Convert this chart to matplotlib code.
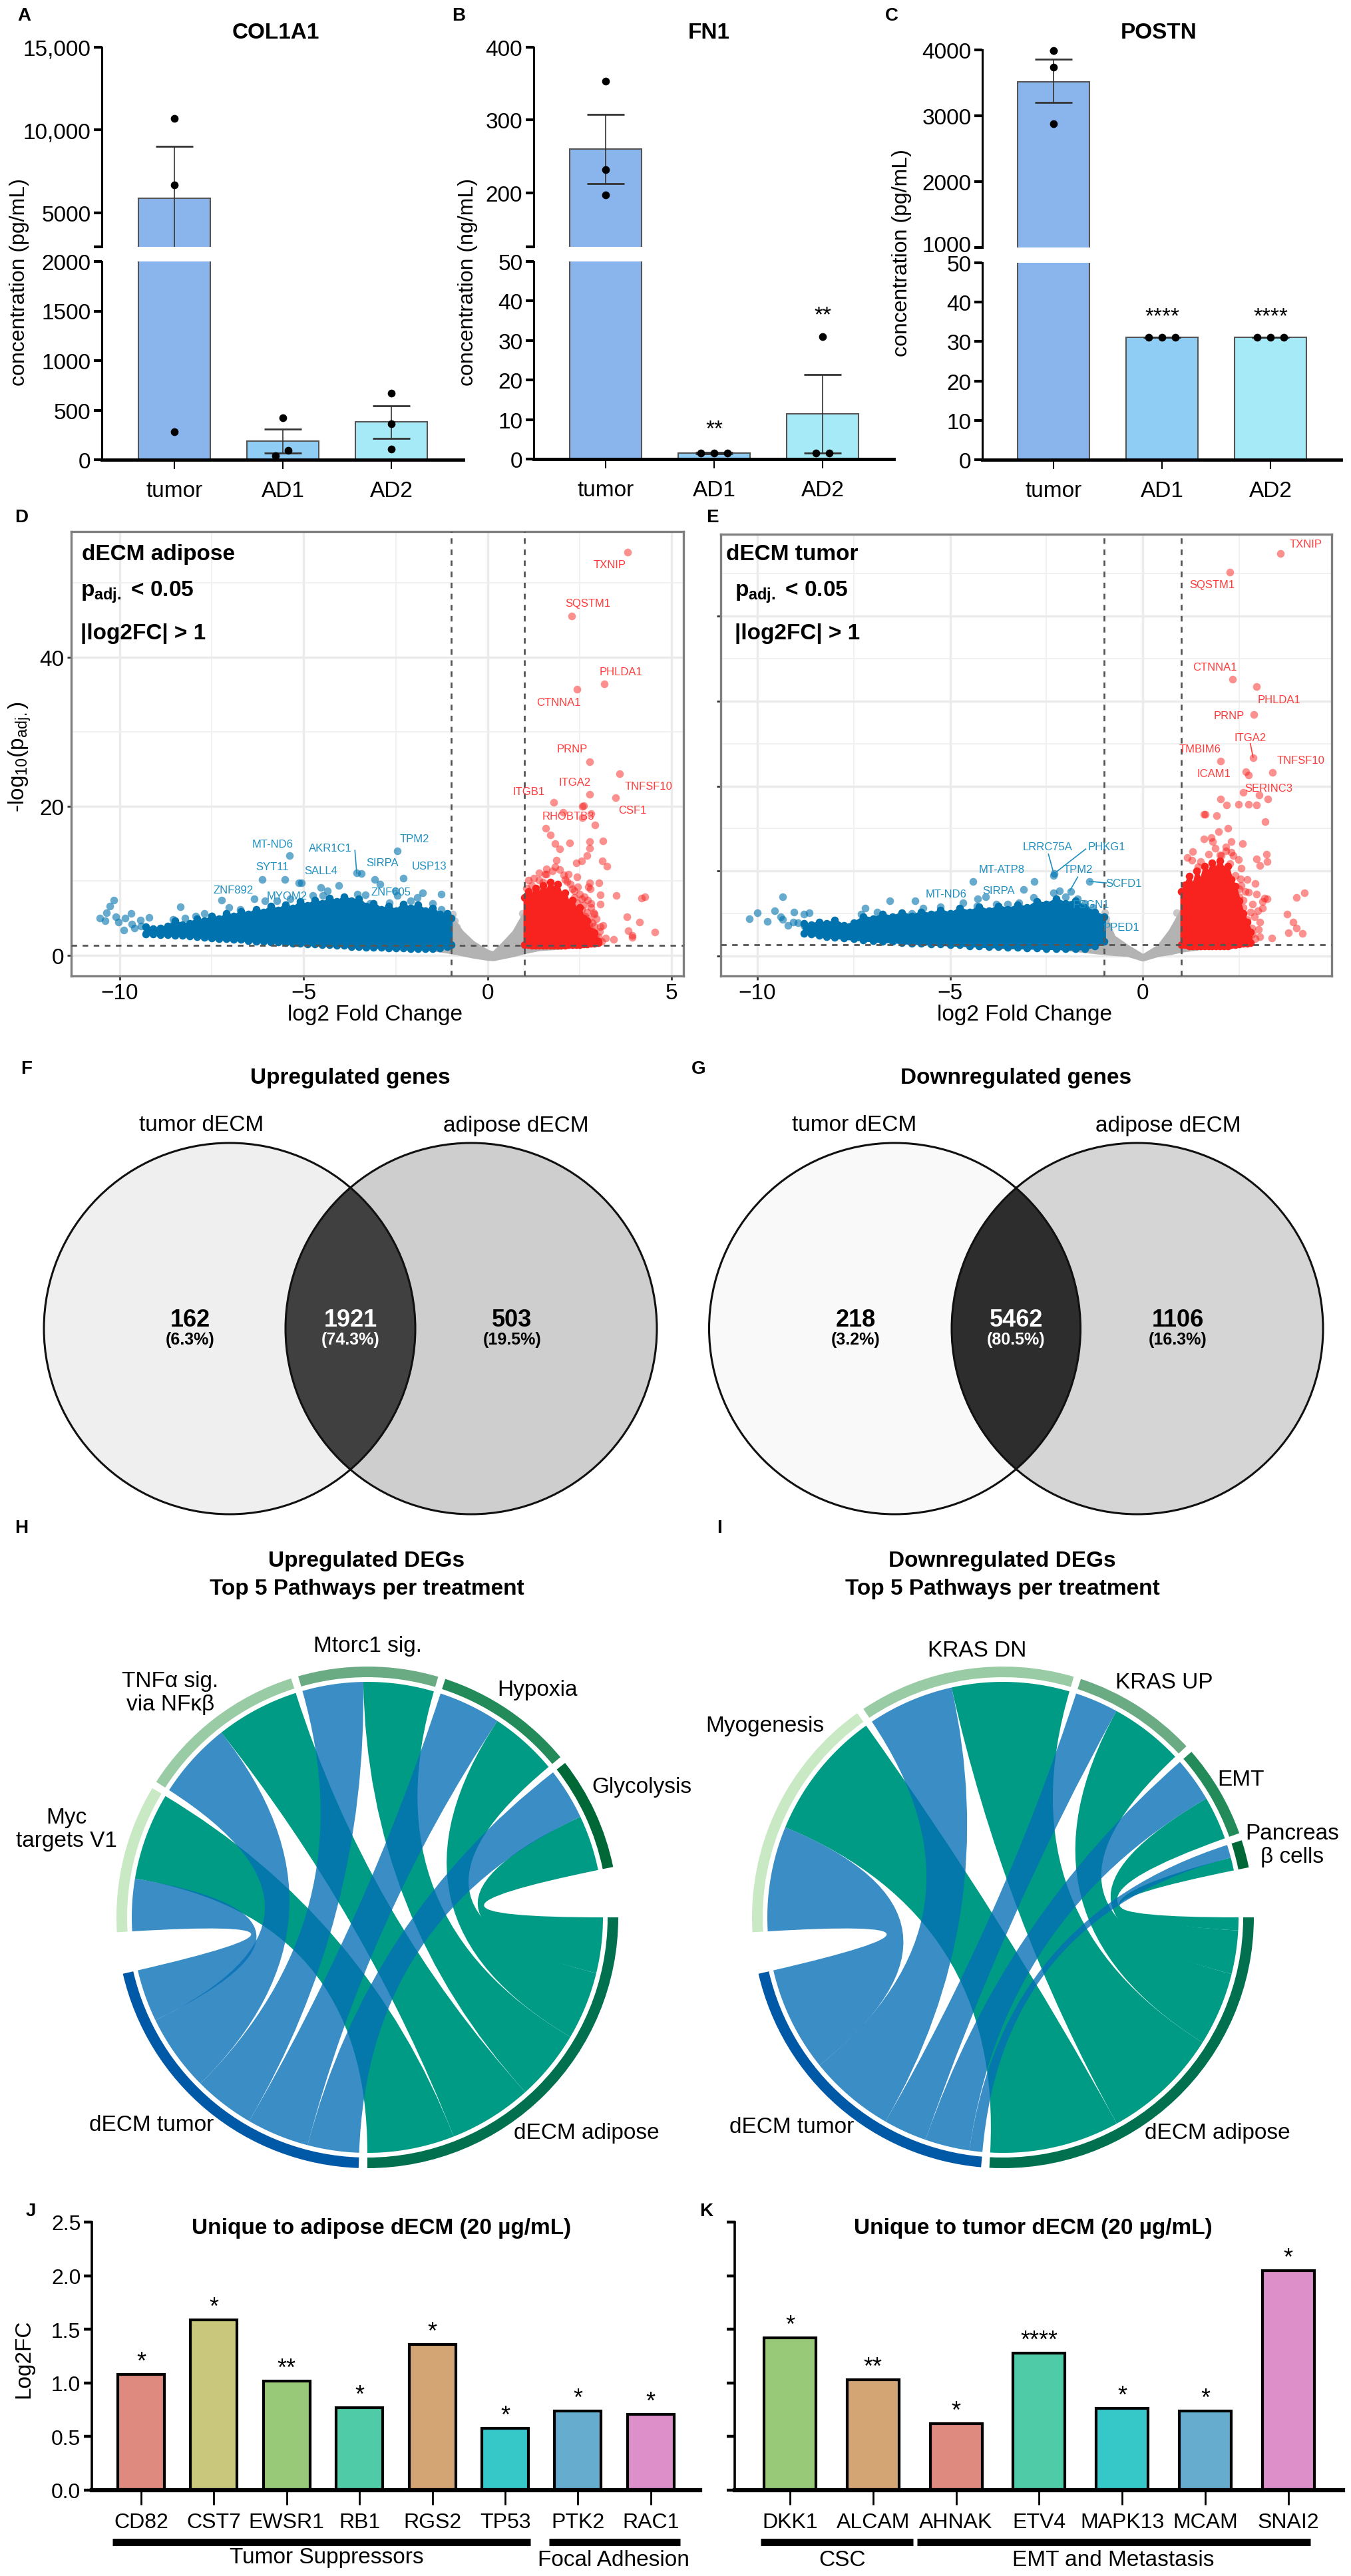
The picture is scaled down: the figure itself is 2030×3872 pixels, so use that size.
import numpy as np
import matplotlib
matplotlib.use('Agg')
import matplotlib.pyplot as plt
from matplotlib.patches import Circle, Wedge, PathPatch
from matplotlib.path import Path
from matplotlib.transforms import ScaledTranslation

plt.rcParams['font.family'] = ['Liberation Sans', 'DejaVu Sans']
plt.rcParams['mathtext.default'] = 'regular'

W, H = 2030, 3873

# panels A-C: bars
groups = ['tumor', 'AD1', 'AD2']
bar_colors = ['#8AB4EC', '#8FCDF4', '#A5EAF6']

col1a1_mean = [5900, 185, 380]
col1a1_low = [2800, 70, 215]
col1a1_high = [9000, 310, 545]
col1a1_points = [[10700, 6700, 280], [420, 95, 40], [670, 360, 110]]
col1a1_offset = [[0, 0, 0], [0, 0.05, -0.07], [0, 0, 0]]

fn1_mean = [260, 1.5, 11.5]
fn1_low = [213, 1.3, 1.5]
fn1_high = [308, 1.7, 21.3]
fn1_points = [[353, 232, 197], [1.5, 1.5, 1.5], [31, 1.5, 1.5]]
fn1_offset = [[0, 0, 0], [-0.12, 0, 0.12], [0, -0.06, 0.06]]

postn_mean = [3520, 31, 31]
postn_low = [3200, 31, 31]
postn_high = [3860, 31, 31]
postn_points = [[3990, 3740, 2880], [31, 31, 31], [31, 31, 31]]
postn_offset = [[0, 0, 0], [-0.12, 0, 0.12], [-0.12, 0, 0.12]]

# panels D-E: volcano. the dense cloud is kept as its outline
d_blue_env_x = [-9.3, -9.1, -8.9, -8.7, -8.5, -8.3, -8.1, -7.9, -7.7, -7.5, -7.3, -7.1, -6.9, -6.7, -6.5, -6.3,
                -6.1, -5.9, -5.7, -5.5, -5.3, -5.1, -4.9, -4.7, -4.5, -4.3, -4.1, -3.9, -3.7, -3.5, -3.3, -3.1,
                -2.9, -2.7, -2.5, -2.3, -2.1, -1.9, -1.7, -1.5, -1.3, -1.1, -1.0]
d_blue_env_top = [3.8, 3.6, 3.7, 3.9, 4.6, 4.1, 4.3, 4.9, 4.6, 5.3, 4.9, 5.6, 5.3, 5.9, 5.5, 6.2,
                  5.8, 6.6, 6.1, 6.8, 6.3, 7.2, 6.7, 7.4, 7.0, 7.7, 7.2, 7.9, 7.3, 7.6, 6.6, 7.0,
                  6.2, 6.6, 6.0, 6.9, 6.3, 6.8, 6.0, 6.3, 5.5, 5.6, 5.0]
d_blue_env_bot = [2.9, 2.9, 2.8, 2.8, 2.7, 2.7, 2.6, 2.5, 2.4, 2.3, 2.2, 2.2, 2.1, 2.1, 2.0, 1.9,
                  1.9, 1.8, 1.8, 1.7, 1.6, 1.6, 1.5, 1.5, 1.4, 1.4, 1.3, 1.3, 1.2, 1.2, 1.1, 1.1,
                  1.1, 1.0, 1.0, 1.0, 0.9, 0.9, 0.9, 0.9, 1.0, 1.2, 1.4]
d_red_env_x = [1.0, 1.1, 1.2, 1.3, 1.4, 1.5, 1.6, 1.7, 1.8, 1.9, 2.0, 2.1, 2.2, 2.3, 2.4, 2.5, 2.6, 2.7, 2.8, 2.9, 3.0]
d_red_env_top = [7.8, 8.6, 7.9, 9.0, 8.2, 9.4, 8.6, 9.8, 8.8, 9.6, 8.0, 8.4, 7.0, 7.4, 6.0, 6.4, 5.0, 4.6, 3.2, 3.0, 1.9]
d_red_env_bot = [1.4, 1.4, 1.3, 1.3, 1.3, 1.3, 1.3, 1.3, 1.3, 1.3, 1.3, 1.3, 1.4, 1.4, 1.4, 1.4, 1.5, 1.5, 1.6, 1.6, 1.7]
d_gray_env_x = [-1.7, -1.0, -0.7, -0.4, 0.0, 0.15, 0.4, 0.7, 1.0, 1.4, 2.0]
d_gray_env_top = [1.0, 5.2, 3.2, 1.8, 0.6, 0.4, 1.6, 3.2, 5.8, 1.4, 1.1]
d_gray_env_bot = [0.9, 0.4, 0.1, -0.2, -0.5, -0.55, -0.3, 0.0, 0.4, 0.8, 1.0]

d_blue_x = [-10.55, -10.39, -10.36, -10.27, -10.17, -10.1, -10.04, -9.9, -9.86, -9.7, -9.68, -9.6, -9.44,
            -9.42, -9.21, -9.27, -8.55, -8.35, -8.23, -7.93, -7.71, -7.5, -7.24, -7.04, -6.73, -6.35, -6.13,
            -6.05, -5.73, -5.51, -5.39, -5.37, -5.13, -5.06, -4.75, -4.54, -4.36, -4.48, -4.05, -3.56, -3.44,
            -3.55, -3.32, -3.08, -2.92, -3.2, -2.67, -2.45, -2.51, -2.45, -2.3, -2.1, -1.92, -1.77, -1.5,
            -1.27, -1.26, -1.08]
d_blue_y = [5.0, 4.6, 5.7, 6.6, 7.4, 5.2, 4.5, 3.4, 5.0, 5.6, 4.2, 3.7, 4.7,
            3.9, 5.1, 3.1, 4.8, 6.5, 5.0, 5.3, 5.6, 5.3, 7.4, 6.4, 6.2, 7.6, 10.2,
            7.3, 7.3, 10.2, 13.4, 7.6, 9.7, 9.7, 8.0, 9.1, 8.7, 8.0, 9.4, 11.1, 11.0,
            8.2, 8.1, 10.2, 9.6, 7.0, 7.1, 14.0, 8.7, 8.0, 10.4, 7.3, 7.8, 8.4, 7.0,
            8.2, 6.2, 5.2]
d_red_x = [3.8, 2.28, 3.16, 2.42, 2.77, 3.58, 2.77, 3.47, 1.79, 2.61, 2.57, 2.05, 2.81, 2.57, 2.91, 1.58,
           1.7, 3.14, 2.77, 2.22, 1.83, 1.95, 2.77, 2.7, 1.86, 2.55, 3.12, 2.4, 3.24, 1.83, 1.95, 1.6,
           1.55, 2.07, 2.43, 3.03, 2.77, 1.39, 3.49, 4.28, 4.18, 3.06, 3.78, 4.13, 4.55, 3.82, 3.92, 3.92,
           3.42, 3.2, 2.94, 3.14, 3.06, 2.9, 3.06, 2.8, 2.55, 2.73, 2.25, 2.1, 2.9, 2.6, 2.45, 2.75, 2.35,
           1.05, 1.2, 1.3, 1.5, 2.65, 2.4, 2.85, 2.7,
           2.35, 2.5, 2.62, 2.72, 2.8, 2.88, 2.95, 2.55, 2.65, 2.42, 2.3, 2.48, 2.7, 2.85, 3.0, 2.62, 2.75, 2.5,
           2.38, 2.9, 3.05, 2.58, 2.68, 2.2, 2.15, 2.45, 2.78, 2.35, 2.52, 3.1, 1.1, 1.25, 1.4, 1.6, 1.75]
d_red_y = [54.1, 45.6, 36.4, 35.7, 26.0, 24.4, 21.6, 21.2, 20.5, 20.1, 20.0, 19.2, 19.0, 18.5, 17.5, 17.1,
           16.2, 15.4, 15.3, 15.1, 15.0, 14.3, 14.4, 13.4, 12.8, 12.7, 12.7, 12.4, 12.0, 11.9, 11.5, 10.9,
           10.9, 10.8, 10.5, 9.7, 9.7, 10.1, 8.0, 7.9, 7.7, 8.1, 5.2, 4.5, 3.1, 3.3, 2.7, 2.4,
           2.1, 2.3, 2.4, 4.0, 3.8, 5.5, 6.9, 7.0, 7.6, 9.2, 9.6, 10.2, 3.9, 6.8, 4.6, 4.9, 7.8,
           9.0, 9.4, 8.7, 9.8, 2.3, 2.8, 4.4, 5.8,
           8.7, 8.2, 7.9, 7.4, 6.4, 5.7, 4.9, 6.2, 5.3, 7.1, 8.9, 5.2, 2.9, 3.3, 2.5, 3.6, 4.1, 3.0,
           2.6, 2.2, 3.2, 2.1, 1.9, 10.9, 9.9, 9.2, 8.9, 3.9, 1.8, 1.9, 10.1, 10.4, 11.1, 11.6, 11.3]
d_gray_x = [0.94, 0.98, -0.95, -0.9, -0.85]
d_gray_y = [5.6, 4.9, 5.5, 4.6, 3.8]

d_labels = ['TXNIP', 'SQSTM1', 'PHLDA1', 'CTNNA1', 'PRNP', 'ITGA2', 'TNFSF10', 'ITGB1', 'CSF1', 'RHOBTB3']
d_label_x = [3.32, 2.73, 3.62, 1.93, 2.29, 2.36, 4.38, 1.11, 3.93, 2.19]
d_label_y = [52.5, 47.3, 38.1, 34.0, 27.7, 23.3, 22.7, 22.0, 19.5, 18.7]
d_blue_labels = ['MT-ND6', 'AKR1C1', 'TPM2', 'SIRPA', 'USP13', 'SYT11', 'SALL4', 'ZNF892', 'MYOM2', 'ZNF605']
d_blue_label_x = [-5.85, -4.28, -1.99, -2.87, -1.59, -5.85, -4.54, -6.92, -5.45, -2.63]
d_blue_label_y = [15.0, 14.4, 15.7, 12.5, 12.0, 11.9, 11.4, 8.8, 8.0, 8.5]

e_blue_env_x = [-8.8, -8.6, -8.4, -8.2, -8.0, -7.75, -7.5, -7.25, -7.0, -6.75, -6.5, -6.25, -6.0, -5.75, -5.5, -5.25,
                -5.0, -4.75, -4.5, -4.25, -4.0, -3.75, -3.5, -3.25, -3.0, -2.75, -2.5, -2.25, -2.0, -1.75, -1.5,
                -1.25, -1.0]
e_blue_env_top = [3.8, 3.7, 4.0, 3.8, 4.2, 3.6, 3.9, 4.6, 4.4, 4.9, 4.6, 5.1, 4.7, 5.2, 4.9, 5.4,
                  5.0, 5.6, 5.2, 5.8, 5.3, 5.9, 5.5, 6.0, 5.7, 6.4, 6.1, 6.7, 6.2, 6.5, 5.7,
                  5.2, 4.6]
e_blue_env_bot = [2.7, 2.6, 2.4, 2.3, 2.2, 2.1, 2.0, 1.9, 1.8, 1.7, 1.7, 1.6, 1.5, 1.5, 1.4, 1.4,
                  1.3, 1.3, 1.2, 1.2, 1.1, 1.1, 1.0, 1.0, 0.95, 0.95, 0.9, 0.9, 0.85, 0.85, 0.9,
                  1.2, 1.7]
e_red_env_x = [1.0, 1.1, 1.2, 1.3, 1.4, 1.5, 1.6, 1.7, 1.8, 1.9, 2.0, 2.1, 2.2, 2.3, 2.4, 2.5, 2.6, 2.7, 2.8]
e_red_env_top = [7.6, 8.4, 9.4, 8.2, 10.0, 8.8, 10.6, 9.8, 11.0, 10.2, 11.2, 10.2, 10.6, 9.0, 8.2, 6.5, 5.0, 4.0, 2.8]
e_red_env_bot = [1.3, 1.3, 1.2, 1.2, 1.2, 1.2, 1.2, 1.2, 1.2, 1.2, 1.2, 1.2, 1.2, 1.3, 1.3, 1.4, 1.5, 1.5, 1.6]
e_gray_env_x = [-2.0, -1.0, -0.75, -0.4, 0.0, 0.4, 0.7, 1.0, 1.5, 2.0]
e_gray_env_top = [0.9, 5.0, 2.3, 1.2, 0.1, 1.2, 3.0, 5.4, 1.3, 1.2]
e_gray_env_bot = [0.8, 0.3, 0.2, 0.1, -0.45, 0.1, 0.3, 0.6, 0.9, 1.1]

e_blue_x = [-10.21, -10.0, -9.75, -9.56, -9.35, -9.39, -9.35, -9.05, -9.06, -8.8, -8.66, -7.2, -6.56, -5.91,
            -5.25, -4.66, -4.4, -4.28, -4.07, -3.09, -2.82, -2.3, -2.31, -1.39, -2.31, -2.16, -1.87, -2.83,
            -3.22, -3.5, -1.3, -6.0, -6.9, -7.3, -5.7, -3.8, -4.3, -2.0, -1.7, -1.5, -9.2, -8.95, -8.8]
e_blue_y = [4.35, 5.1, 4.05, 5.3, 6.95, 4.6, 4.3, 5.2, 4.0, 4.9, 5.1, 5.65, 6.5, 6.5,
            5.8, 6.3, 8.8, 6.7, 7.0, 7.85, 8.8, 9.7, 9.5, 8.8, 7.45, 7.65, 7.6, 6.9,
            6.3, 6.1, 5.7, 5.0, 5.2, 4.9, 5.6, 6.1, 5.9, 7.0, 6.7, 6.2, 3.6, 3.9, 3.6]
e_red_x = [3.57, 2.26, 2.32, 2.95, 2.88, 2.86, 2.01, 3.37, 2.68, 2.75, 2.6, 3.02, 3.24, 2.02, 2.17, 2.48,
           2.74, 2.95, 1.59, 1.62, 1.91, 3.17, 2.2, 1.97, 1.58, 1.78, 1.81, 2.3, 2.59, 1.87, 2.15, 2.03,
           3.2, 2.95, 3.23, 2.48, 1.27, 3.03, 1.43, 1.96, 2.26, 4.19, 3.98, 3.22, 3.75, 3.89, 3.98, 4.14,
           3.77, 3.35, 3.03, 2.92, 2.83, 3.03, 2.98, 2.75, 2.92, 2.53, 2.45, 2.6, 2.85, 2.7, 2.5, 3.1,
           2.4, 2.55, 2.65, 2.8, 2.9, 3.0, 2.7, 2.5, 2.6, 2.35, 2.85, 2.75, 2.45, 3.1, 1.3, 1.15, 1.5, 1.7,
           2.0, 2.15, 2.3, 2.55, 2.7, 2.95, 3.15]
e_red_y = [47.4, 45.15, 32.55, 31.7, 28.45, 23.35, 22.95, 21.65, 21.7, 21.3, 19.25, 18.95, 18.5, 18.45, 17.8, 17.85,
           17.85, 17.75, 16.7, 16.7, 16.5, 15.8, 15.0, 14.65, 13.8, 13.95, 13.5, 13.45, 13.25, 12.65, 12.85, 11.85,
           11.95, 11.45, 11.1, 11.35, 11.25, 10.65, 10.5, 10.5, 10.9, 7.45, 6.9, 6.7, 4.95, 4.0, 3.3, 2.65,
           2.75, 2.1, 2.3, 2.0, 3.3, 4.0, 5.3, 7.5, 8.5, 9.1, 5.5, 6.6, 6.1, 3.2, 7.9, 6.4,
           9.5, 8.3, 7.6, 5.2, 4.6, 3.1, 4.3, 7.0, 5.7, 11.8, 2.6, 1.9, 2.0, 5.6, 12.3, 11.6, 11.1, 12.0,
           11.9, 12.4, 12.2, 10.3, 9.0, 7.3, 6.8]
e_gray_x = [-0.98, -0.95, 0.88, 0.95, -0.9]
e_gray_y = [5.1, 4.4, 5.1, 4.4, 3.6]

e_labels = ['TXNIP', 'SQSTM1', 'CTNNA1', 'PHLDA1', 'PRNP', 'ITGA2', 'TMBIM6', 'TNFSF10', 'ICAM1', 'SERINC3']
e_label_x = [4.23, 1.8, 1.86, 3.54, 2.23, 2.79, 1.48, 4.1, 1.84, 3.26]
e_label_y = [48.5, 43.7, 34.0, 30.2, 28.3, 25.7, 24.4, 23.1, 21.5, 19.8]
e_blue_labels = ['LRRC75A', 'PHKG1', 'MT-ATP8', 'TPM2', 'SCFD1', 'SIRPA', 'MT-ND6', 'FSGN1', 'PPED1']
e_blue_label_x = [-2.48, -0.93, -3.67, -1.68, -0.49, -3.74, -5.1, -1.34, -0.56]
e_blue_label_y = [12.9, 12.9, 10.2, 10.2, 8.6, 7.7, 7.3, 6.1, 3.4]

# panels F-G: venn
venn_up_counts = [162, 1921, 503]
venn_up_pct = ['(6.3%)', '(74.3%)', '(19.5%)']
venn_down_counts = [218, 5462, 1106]
venn_down_pct = ['(3.2%)', '(80.5%)', '(16.3%)']

# panels H-I: chord widths in degrees, first pathway to last
h_pathways = ['Myc\ntargets V1', 'TNFα sig.\nvia NFκβ', 'Mtorc1 sig.', 'Hypoxia', 'Glycolysis']
h_tumor = [12.9, 19.0, 15.0, 15.4, 12.7]
h_adipose = [21.5, 20.6, 17.4, 16.8, 13.7]
i_pathways = ['Myogenesis', 'KRAS DN', 'KRAS UP', 'EMT', 'Pancreas\nβ cells']
i_tumor = [25.9, 21.2, 10.7, 11.0, 3.2]
i_adipose = [32.0, 29.0, 18.2, 10.7, 3.2]
ring_greens = ['#C8E9C3', '#99CBA4', '#6BAB84', '#238B5A', '#006837']

# panels J-K: bars
j_genes = ['CD82', 'CST7', 'EWSR1', 'RB1', 'RGS2', 'TP53', 'PTK2', 'RAC1']
j_values = [1.08, 1.59, 1.02, 0.77, 1.36, 0.58, 0.74, 0.71]
j_stars = ['*', '*', '**', '*', '*', '*', '*', '*']
j_colors = ['#DE8A7F', '#C9C77B', '#97C978', '#50CBA8', '#D4A574', '#36C8C8', '#65ACCF', '#DD8FC9']
k_genes = ['DKK1', 'ALCAM', 'AHNAK', 'ETV4', 'MAPK13', 'MCAM', 'SNAI2']
k_values = [1.42, 1.03, 0.62, 1.28, 0.76, 0.74, 2.05]
k_stars = ['*', '**', '*', '****', '*', '*', '*']
k_colors = ['#97C978', '#D4A574', '#DE8A7F', '#50CBA8', '#36C8C8', '#65ACCF', '#DD8FC9']

fig = plt.figure(figsize=(W / 100, H / 100), dpi=100, facecolor='white')


def axes_px(left, top, right, bottom):
    return fig.add_axes([left / W, 1 - bottom / H, (right - left) / W, (bottom - top) / H])


canvas = fig.add_axes([0, 0, 1, 1], zorder=10)
canvas.set_xlim(0, W)
canvas.set_ylim(H, 0)
canvas.axis('off')


def label(x, y, s, size=24, weight='normal', ha='center', color='black', rotation=0):
    canvas.text(x, y, s, fontsize=size, fontweight=weight, ha=ha, va='center', color=color, rotation=rotation)


def draw_bars(ax, mean, low, high, points, offset, clip):
    x = np.arange(3)
    ax.bar(x, mean, width=0.66, color=bar_colors, edgecolor='#555555', linewidth=1.5)
    yerr = [np.array(mean) - np.array(low), np.array(high) - np.array(mean)]
    ax.errorbar(x, mean, yerr=yerr, fmt='none', ecolor='#333333', elinewidth=1.2, capsize=20, capthick=2)
    for i in x:
        ax.scatter(i + np.array(offset[i]), points[i], s=55, color='black', zorder=5, clip_on=clip)


def broken_panel(left, right, top_px, split, low_top, zero, centre0, lims_top, lims_low, ticks_top, labels_top,
                 ticks_low, mean, low, high, points, offset):
    step = 163
    xlim = ((left - centre0) / step, (right - centre0) / step)
    upper = axes_px(left, top_px, right, split)
    lower = axes_px(left, low_top, right, zero)
    for ax, lim in zip([upper, lower], [lims_top, lims_low]):
        draw_bars(ax, mean, low, high, points, offset, True)
        ax.set_xlim(xlim)
        ax.set_ylim(lim)
        ax.spines['top'].set_visible(False)
        ax.spines['right'].set_visible(False)
        ax.spines['left'].set_linewidth(2.2)
        ax.tick_params(axis='y', labelsize=24, width=3, length=9, pad=3)
    upper.spines['bottom'].set_visible(False)
    upper.set_xticks([])
    upper.set_yticks(ticks_top)
    upper.set_yticklabels(labels_top)
    lower.set_yticks(ticks_low)
    lower.spines['bottom'].set_linewidth(3.5)
    lower.set_xticks(range(3))
    lower.set_xticklabels(groups)
    lower.tick_params(axis='x', labelsize=24, width=1.5, length=10, pad=12)
    return upper, lower


broken_panel(153, 696, 72, 372, 394, 692, 262, (2950, 15000), (0, 2000), [2950, 5000, 10000, 15000],
             ['', '5000', '10,000', '15,000'], [0, 500, 1000, 1500, 2000],
             col1a1_mean, col1a1_low, col1a1_high, col1a1_points, col1a1_offset)
_, low_b = broken_panel(802, 1343, 72, 372, 394, 691, 910, (126, 400), (0, 50), [126, 200, 300, 400],
                        ['', '200', '300', '400'], [0, 10, 20, 30, 40, 50],
                        fn1_mean, fn1_low, fn1_high, fn1_points, fn1_offset)
up_c, low_c = broken_panel(1476, 2015, 76, 373, 396, 692, 1583, (1000, 4000), (0, 50), [1000, 2000, 3000, 4000],
                           ['1000', '2000', '3000', '4000'], [0, 10, 20, 30, 40, 50],
                           postn_mean, postn_low, postn_high, postn_points, postn_offset)
up_c.scatter([0], [postn_points[0][0]], s=55, color='black', zorder=5, clip_on=False)
# keep the 1000 label off the 50 label just under it
lab = up_c.get_yticklabels()[0]
lab.set_transform(lab.get_transform() + ScaledTranslation(0, 4 / 72, fig.dpi_scale_trans))
low_b.text(1, 7.6, '**', fontsize=24, ha='center', va='center')
low_b.text(2, 36.4, '**', fontsize=24, ha='center', va='center')
low_c.text(1, 36.4, '****', fontsize=24, ha='center', va='center')
low_c.text(2, 36.4, '****', fontsize=24, ha='center', va='center')

label(414, 49, 'COL1A1', 24, 'bold')
label(1065, 49, 'FN1', 24, 'bold')
label(1741, 49, 'POSTN', 24, 'bold')
label(29, 424, 'concentration (pg/mL)', 23, rotation=90)
label(703, 424, 'concentration (ng/mL)', 23, rotation=90)
label(1355, 380, 'concentration (pg/mL)', 23, rotation=90)


def volcano(ax, env, pts, xlim, ylim, xminor, yticks, yminor, hline, vl):
    blue_env, red_env, gray_env = env
    blue_pts, red_pts, gray_pts = pts
    ax.set_axisbelow(True)
    ax.fill_between(*gray_env, color='#B3B3B3', linewidth=3, zorder=2)
    ax.scatter(*gray_pts, s=70, color='#B3B3B3', alpha=0.7, linewidths=0, zorder=2)
    for e, pt, col, a in [(blue_env, blue_pts, '#0073AE', 0.6), (red_env, red_pts, '#F8231F', 0.5)]:
        ax.fill_between(*e, color=col, linewidth=3, zorder=3)
        # outline points give the cloud its bumpy edge
        ax.scatter(e[0], e[1], s=70, color=col, linewidths=0, zorder=3)
        ax.scatter(e[0], e[2], s=70, color=col, linewidths=0, zorder=3)
        ax.scatter(*pt, s=70, color=col, alpha=a, linewidths=0, zorder=3)
    ax.axhline(hline, color='#555555', ls=(0, (3, 3)), lw=2, zorder=4)
    ax.axvline(-vl, color='#555555', ls=(0, (3, 3)), lw=2, zorder=4)
    ax.axvline(vl, color='#555555', ls=(0, (3, 3)), lw=2, zorder=4)
    ax.set_xlim(xlim)
    ax.set_ylim(ylim)
    ax.set_xticks([-10, -5, 0, 5] if xlim[1] > 5 else [-10, -5, 0])
    ax.set_xticks(xminor, minor=True)
    ax.set_yticks(yticks)
    ax.set_yticks(yminor, minor=True)
    ax.grid(which='major', color='#EBEBEB', lw=2.5)
    ax.grid(which='minor', color='#EFEFEF', lw=1.2)
    ax.tick_params(which='minor', length=0)
    ax.tick_params(which='major', labelsize=24, width=2, length=4, color='#333333')
    for s in ax.spines.values():
        s.set_color('#7F7F7F')
        s.set_linewidth(2.4)


ax_d = axes_px(107, 800, 1027, 1468)
volcano(ax_d,
        ((d_blue_env_x, d_blue_env_top, d_blue_env_bot), (d_red_env_x, d_red_env_top, d_red_env_bot),
         (d_gray_env_x, d_gray_env_top, d_gray_env_bot)),
        ((d_blue_x, d_blue_y), (d_red_x, d_red_y), (d_gray_x, d_gray_y)),
        (-11.32, 5.32), (-2.77, 56.9), [-7.5, -2.5, 2.5], [0, 20, 40], [10, 30, 50], 1.3, 1.0)
for name, x, y in zip(d_labels, d_label_x, d_label_y):
    ax_d.text(x, y, name, fontsize=12, color='#FF3B3B', ha='center', va='center', zorder=6)
for name, x, y in zip(d_blue_labels, d_blue_label_x, d_blue_label_y):
    ax_d.text(x, y, name, fontsize=12, color='#1F8FC0', ha='center', va='center', zorder=6)
ax_d.plot([-3.61, -3.56], [14.1, 11.0], color='#1F8FC0', lw=1.2, zorder=6)

ax_e = axes_px(1083, 804, 2001, 1468)
volcano(ax_e,
        ((e_blue_env_x, e_blue_env_top, e_blue_env_bot), (e_red_env_x, e_red_env_top, e_red_env_bot),
         (e_gray_env_x, e_gray_env_top, e_gray_env_bot)),
        ((e_blue_x, e_blue_y), (e_red_x, e_red_y), (e_gray_x, e_gray_y)),
        (-10.95, 4.9), (-2.35, 49.65), [-7.5, -2.5, 2.5], [0, 10, 20, 30, 40], [5, 15, 25, 35, 45], 1.3, 1.0)
ax_e.set_yticklabels([])
for name, x, y in zip(e_labels, e_label_x, e_label_y):
    ax_e.text(x, y, name, fontsize=12, color='#FF3B3B', ha='center', va='center', zorder=6)
for name, x, y in zip(e_blue_labels, e_blue_label_x, e_blue_label_y):
    ax_e.text(x, y, name, fontsize=12, color='#1F8FC0', ha='center', va='center', zorder=6)
ax_e.plot([2.79, 2.86], [25.0, 23.4], color='#FF3B3B', lw=1.2, zorder=6)
ax_e.plot([-2.45, -2.31], [12.0, 9.7], color='#1F8FC0', lw=1.2, zorder=6)
ax_e.plot([-1.48, -2.3], [12.6, 9.7], color='#1F8FC0', lw=1.2, zorder=6)
ax_e.plot([-1.69, -1.89], [9.3, 7.7], color='#1F8FC0', lw=1.2, zorder=6)
ax_e.plot([-0.95, -1.39], [8.6, 8.8], color='#1F8FC0', lw=1.2, zorder=6)

label(564, 1525, 'log2 Fold Change')
label(1540, 1525, 'log2 Fold Change')
label(30, 1137, r'-log$_{10}$(p$_{adj.}$)', 24, rotation=90)
for x1, x2, x3, name in [(123, 121, 121, 'dECM adipose'), (1091, 1104, 1104, 'dECM tumor')]:
    label(x1, 833, name, 24, 'bold', ha='left')
    label(x2, 890, r'p$_{adj.}$ < 0.05', 24, 'bold', ha='left')
    label(x3, 952, '|log2FC| > 1', 24, 'bold', ha='left')


def venn(cx1, cx2, colors, counts, pct, title, xt):
    cy, r = 1998, 279
    c1 = Circle((cx1, cy), r, fc=colors[0], ec='none')
    c2 = Circle((cx2, cy), r, fc=colors[2], ec='none')
    canvas.add_patch(c1)
    canvas.add_patch(c2)
    overlap = Circle((cx2, cy), r, fc=colors[1], ec='none')
    canvas.add_patch(overlap)
    overlap.set_clip_path(Circle((cx1, cy), r, transform=canvas.transData))
    canvas.add_patch(Circle((cx1, cy), r, fc='none', ec='#111111', lw=2.2))
    canvas.add_patch(Circle((cx2, cy), r, fc='none', ec='#111111', lw=2.2))
    label((cx1 + cx2) / 2, 1621, title, 24, 'bold')
    label(xt[0], 1692, 'tumor dECM')
    label(xt[1], 1692, 'adipose dECM')
    mid = (cx1 + cx2) / 2
    for x, n, p, col in zip([mid - 241, mid, mid + 243], counts, pct, ['black', 'white', 'black']):
        label(x, 1984, str(n), 26, 'bold', color=col)
        label(x, 2014, p, 18, 'bold', color=col)


venn(345, 708, ['#EFEFEF', '#404040', '#CECECE'], venn_up_counts, venn_up_pct, 'Upregulated genes', (303, 775))
venn(1344.5, 1709, ['#F9F9F9', '#2D2D2D', '#D5D5D5'], venn_down_counts, venn_down_pct, 'Downregulated genes',
     (1284, 1755))


def ribbon(ax, a_hi, a_lo, b_hi, b_lo, color, alpha, r=354):
    t1 = np.radians(np.linspace(a_hi, a_lo, 30))
    t2 = np.radians(np.linspace(b_hi, b_lo, 30))
    verts, codes = [], []
    for i, t in enumerate(t1):
        verts.append((r * np.cos(t), r * np.sin(t)))
        codes.append(Path.MOVETO if i == 0 else Path.LINETO)
    verts += [(0, 0), (r * np.cos(t2[0]), r * np.sin(t2[0]))]
    codes += [Path.CURVE3, Path.CURVE3]
    for t in t2[1:]:
        verts.append((r * np.cos(t), r * np.sin(t)))
        codes.append(Path.LINETO)
    verts += [(0, 0), (r * np.cos(t1[0]), r * np.sin(t1[0])), (0, 0)]
    codes += [Path.CURVE3, Path.CURVE3, Path.CLOSEPOLY]
    ax.add_patch(PathPatch(Path(verts, codes), fc=color, ec='none', alpha=alpha))


def chord(cx, cy, tumor, adipose, tumor_start):
    ax = axes_px(cx - 400, cy - 400, cx + 400, cy + 400)
    ax.set_xlim(-400, 400)
    ax.set_ylim(-400, 400)
    ax.axis('off')
    # pathway sectors go clockwise from the left, the two treatments from angle 0
    pos = 183.4
    spans = []
    for t, a in zip(tumor, adipose):
        spans.append((pos, pos - t, pos - t - a))
        pos = pos - t - a - 1.7
    a_pos, t_pos = 0.0, tumor_start
    blues = []
    for i in range(len(tumor) - 1, -1, -1):
        s = spans[i]
        ribbon(ax, s[1], s[2], a_pos, a_pos - adipose[i], '#009B85', 1.0)
        blues.append((s[0], s[1], t_pos, t_pos - tumor[i]))
        a_pos -= adipose[i]
        t_pos -= tumor[i]
    for b in blues:
        ribbon(ax, b[0], b[1], b[2], b[3], '#066FB6', 0.79)
    for s, col in zip(spans, ring_greens):
        ax.add_patch(Wedge((0, 0), 377, s[2], s[0], width=16, fc=col, ec='none'))
    ax.add_patch(Wedge((0, 0), 377, a_pos, 0, width=16, fc='#00704F', ec='none'))
    ax.add_patch(Wedge((0, 0), 377, t_pos, tumor_start, width=16, fc='#0059A6', ec='none'))


chord(552, 2883, h_tumor, h_adipose, -92)
chord(1507, 2883, i_tumor, i_adipose, -95)

label(551, 2347, 'Upregulated DEGs', 24, 'bold')
label(551, 2388, 'Top 5 Pathways per treatment', 24, 'bold')
label(1506, 2347, 'Downregulated DEGs', 24, 'bold')
label(1506, 2388, 'Top 5 Pathways per treatment', 24, 'bold')
h_label_x = [100, 256, 552, 808, 964]
h_label_y = [2750, 2545, 2475, 2541, 2686]
for s, x, y in zip(h_pathways, h_label_x, h_label_y):
    canvas.text(x, y, s, fontsize=24, ha='center', va='center', linespacing=1.2)
i_label_x = [1149, 1468, 1749, 1865, 1942]
i_label_y = [2595, 2481, 2529, 2676, 2774]
for s, x, y in zip(i_pathways, i_label_x, i_label_y):
    canvas.text(x, y, s, fontsize=24, ha='center', va='center', linespacing=1.2)
label(228, 3195, 'dECM tumor')
label(881, 3207, 'dECM adipose')
label(1190, 3198, 'dECM tumor')
label(1829, 3207, 'dECM adipose')


def bar_panel(left, right, first, step, width, genes, values, stars, colors, show_labels):
    ax = axes_px(left, 3341, right, 3744)
    x = np.arange(len(genes))
    ax.bar(x, values, width=width, color=colors, edgecolor='black', linewidth=3)
    for i, s in zip(x, stars):
        ax.text(i, values[i] + 0.115, s, fontsize=26, ha='center', va='center')
    ax.set_xlim((left - first) / step, (right - first) / step)
    ax.set_ylim(0, 2.5)
    ax.set_xticks(x)
    ax.set_xticklabels(genes)
    ax.set_yticks([0, 0.5, 1.0, 1.5, 2.0, 2.5])
    if not show_labels:
        ax.set_yticklabels([])
    ax.spines['top'].set_visible(False)
    ax.spines['right'].set_visible(False)
    ax.spines['left'].set_linewidth(2.6)
    ax.spines['bottom'].set_linewidth(4.5)
    ax.tick_params(axis='x', labelsize=23, width=2, length=16, pad=8)
    ax.tick_params(axis='y', labelsize=23, width=3.2, length=9, pad=3)
    return ax


ax_j = bar_panel(138, 1052, 212, 109.4, 0.64, j_genes, j_values, j_stars, j_colors, True)
ax_k = bar_panel(1104, 2018, 1187, 124.8, 0.625, k_genes, k_values, k_stars, k_colors, False)

for ax, x0, x1 in [(ax_j, -0.39, 5.35), (ax_j, 5.6, 7.4), (ax_k, -0.35, 1.48), (ax_k, 1.53, 6.27)]:
    ax.plot([x0, x1], [-0.193, -0.193], transform=ax.get_xaxis_transform(), color='black', lw=8,
            solid_capstyle='butt', clip_on=False)

label(573, 3350, 'Unique to adipose dECM (20 µg/mL)', 24, 'bold')
label(1552, 3350, 'Unique to tumor dECM (20 µg/mL)', 24, 'bold')
label(36, 3546, 'Log2FC', 24, rotation=90)
label(491, 3845, 'Tumor Suppressors')
label(922, 3849, 'Focal Adhesion')
label(1266, 3849, 'CSC')
label(1673, 3849, 'EMT and Metastasis')

panel_names = ['A', 'B', 'C', 'D', 'E', 'F', 'G', 'H', 'I', 'J', 'K']
panel_x = [36, 689, 1340, 32, 1070, 40, 1050, 32, 1081, 46, 1061]
panel_y = [24, 24, 24, 778, 778, 1607, 1607, 2297, 2297, 3324, 3324]
for s, x, y in zip(panel_names, panel_x, panel_y):
    label(x, y, s, 20, 'bold')

fig.savefig('out.png', dpi=100)
